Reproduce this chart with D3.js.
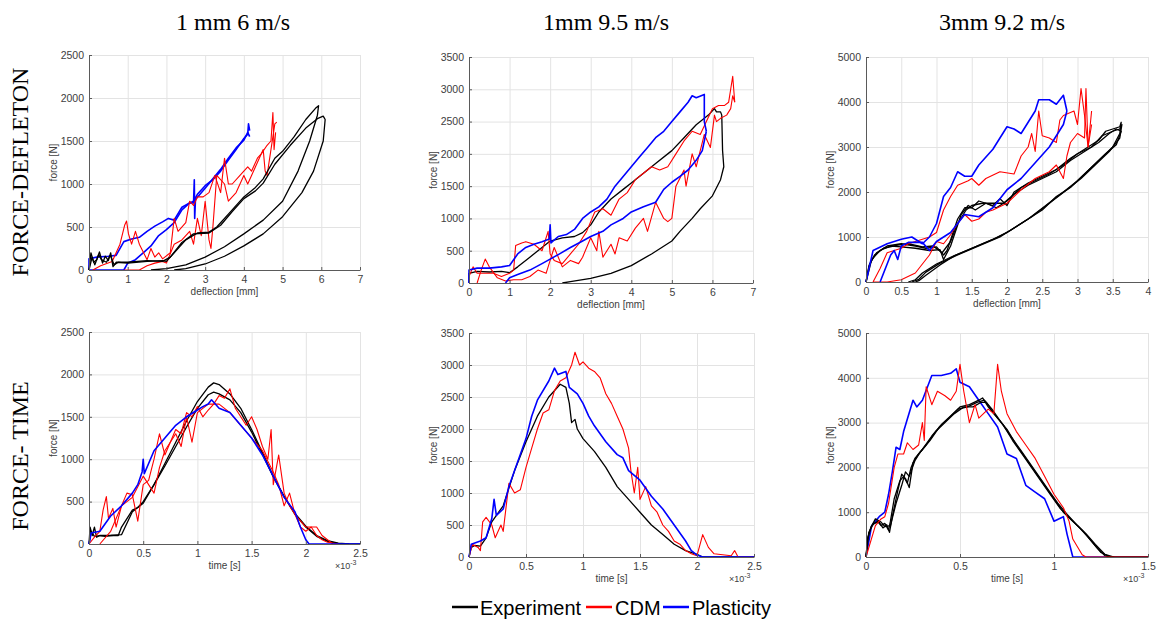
<!DOCTYPE html>
<html><head><meta charset="utf-8">
<script src="https://cdn.jsdelivr.net/npm/d3@7/dist/d3.min.js"></script>
<style>body{margin:0;background:#fff}svg{display:block}</style>
</head><body>
<svg id="c" width="1157" height="622"></svg>
<script>
// ---------- DATA ----------
const colTitles = ["1 mm 6 m/s", "1mm 9.5 m/s", "3mm 9.2 m/s"];
const rowTitles = ["FORCE-DEFLETON", "FORCE- TIME"];
const legendLabels = ["Experiment", "CDM", "Plasticity"];
const ticks7 = [0,1,2,3,4,5,6,7];
const ticks4 = [0,0.5,1,1.5,2,2.5,3,3.5,4];
const ticksT25 = [0,0.5,1,1.5,2,2.5];
const ticksT15 = [0,0.5,1,1.5];
const ticksF2500 = [0,500,1000,1500,2000,2500];
const ticksF3500 = [0,500,1000,1500,2000,2500,3000,3500];
const ticksF5000 = [0,1000,2000,3000,4000,5000];

// Panel 1: 1 mm 6 m/s, force-deflection
const p1Exp1 = [[0,0],[0.05,200],[0.12,90],[0.2,120],[0.27,210],[0.35,80],[0.42,160],[0.5,110],[0.56,200],[0.62,40],[0.7,90],[1,80],[1.5,100],[1.9,110],[2,100],[2.2,200],[2.5,350],[2.8,430],[3.1,440],[3.3,500],[3.6,650],[4,850],[4.3,960],[4.5,1060],[4.8,1300],[5,1380],[5.3,1550],[5.6,1750],[5.85,1880],[5.93,1910],[5.9,1800],[5.7,1500],[5.4,1150],[5,800],[4.5,580],[4,420],[3.5,270],[3,150],[2.5,60],[2,15],[1.6,0]];
const p1Exp2 = [[0,0],[0.08,150],[0.15,60],[0.25,180],[0.32,120],[0.45,90],[0.55,170],[0.65,60],[0.75,90],[1,90],[1.5,110],[1.9,100],[2.1,150],[2.4,320],[2.7,420],[3.1,430],[3.4,520],[3.7,680],[4,830],[4.3,920],[4.5,1010],[4.8,1230],[5.2,1450],[5.6,1650],[5.9,1760],[6.05,1790],[6.1,1750],[6.05,1500],[5.8,1150],[5.5,900],[5,620],[4.5,420],[4,280],[3.5,160],[3,70],[2.5,15],[2.2,0]];
const p1Cdm1 = [[0.1,0],[0.3,50],[0.6,100],[0.8,300],[0.92,520],[0.97,570],[1.02,420],[1.1,300],[1.2,450],[1.3,300],[1.5,120],[1.6,250],[1.7,150],[1.8,200],[1.9,130],[2.1,200],[2.2,600],[2.3,450],[2.5,550],[2.6,800],[2.7,750],[2.8,850],[2.95,850],[3.1,900],[3.25,1100],[3.4,900],[3.5,1300],[3.6,1000],[3.7,1000],[3.9,1100],[4.1,1200],[4.2,1150],[4.35,1300],[4.45,1350],[4.6,1450],[4.7,1500],[4.75,1830],[4.78,1400],[4.82,1600]];
const p1Cdm2 = [[0.9,0],[1.1,0],[1.3,0],[1.5,50],[1.7,80],[1.9,100],[2,80],[2.2,300],[2.4,350],[2.6,450],[2.7,300],[2.8,600],[2.9,400],[3,800],[3.1,350],[3.15,250],[3.2,500],[3.3,1100],[3.5,1000],[3.6,800],[3.8,900],[4,1100],[4.1,1000],[4.3,1200],[4.5,1400],[4.55,1150],[4.6,1100],[4.7,1400],[4.8,1700],[4.85,1720]];
const p1Pla1 = [[0,0],[0,130],[0.2,150],[0.5,160],[0.7,170],[0.9,330],[1.1,360],[1.3,380],[1.5,450],[1.7,510],[1.9,560],[2.05,600],[2.2,580],[2.4,730],[2.6,780],[2.7,800],[2.8,880],[3,980],[3.2,1050],[3.4,1150],[3.6,1280],[3.8,1400],[4,1530],[4.1,1580],[4.12,1700],[4.15,1620]];
const p1Pla2 = [[0,0],[0.3,0],[0.6,0],[0.9,0],[1,80],[1.2,120],[1.4,200],[1.6,280],[1.8,400],[2,470],[2.2,550],[2.4,700],[2.6,780],[2.7,780],[2.72,1050],[2.73,600],[2.75,820],[3,950],[3.2,1060],[3.4,1170],[3.6,1300],[3.8,1420],[4,1510],[4.1,1600],[4.15,1550]];

// Panel 2: 1mm 9.5 m/s, force-deflection
const p2Exp1 = [[0,0],[0,150],[0.2,180],[0.5,170],[0.8,180],[1,160],[1.2,250],[1.5,400],[1.8,550],[2,650],[2.3,700],[2.6,720],[2.8,780],[3,900],[3.2,1100],[3.5,1300],[3.8,1450],[4,1550],[4.3,1700],[4.6,1850],[5,2050],[5.3,2250],[5.6,2450],[5.9,2600],[6.05,2700],[6.1,2650],[6.2,2650],[6.23,2600],[6.25,2050],[6.28,1800],[6.2,1600],[6,1350],[5.7,1150],[5.5,1000],[5.2,800],[5,650],[4.5,450],[4,270],[3.5,150],[3,70],[2.5,20],[2.3,0]];
const p2Cdm1 = [[0,100],[0.1,250],[0.2,150],[0.4,150],[0.6,150],[0.8,100],[1,150],[1.1,200],[1.15,580],[1.3,620],[1.4,640],[1.6,600],[1.8,500],[1.95,800],[2,450],[2.1,350],[2.3,300],[2.5,450],[2.7,600],[2.9,800],[3.1,1100],[3.3,1150],[3.5,1050],[3.7,1300],[3.9,1400],[4.1,1600],[4.3,1700],[4.5,1800],[4.7,1750],[4.9,1800],[5.1,2000],[5.3,2200],[5.5,2350],[5.7,2300],[5.85,2500],[6,2700],[6.15,2750],[6.3,2750],[6.4,2800],[6.45,3000],[6.5,3200],[6.55,2800]];
const p2Cdm2 = [[0.2,0],[0.3,200],[0.4,370],[0.5,250],[0.7,80],[0.9,30],[1.1,50],[1.3,50],[1.5,100],[1.7,200],[1.9,150],[2.1,550],[2.3,250],[2.5,350],[2.7,300],[2.8,400],[3,700],[3.15,500],[3.2,800],[3.3,400],[3.5,600],[3.6,450],[3.7,700],[3.9,650],[4.1,850],[4.3,1000],[4.4,800],[4.6,1250],[4.8,1000],[4.9,950],[5,1000],[5.1,1500],[5.3,1750],[5.35,1500],[5.5,2000],[5.6,1800],[5.8,2300],[5.95,2100],[6.05,2600],[6.1,2500],[6.2,2550],[6.35,2600],[6.45,2700],[6.5,2900],[6.55,2800]];
const p2Pla1 = [[0,0],[0,200],[0.2,230],[0.5,230],[0.8,250],[1,270],[1.2,450],[1.4,550],[1.6,600],[1.8,640],[1.98,680],[2,900],[2.02,620],[2.2,720],[2.4,750],[2.6,830],[2.8,1000],[3,1100],[3.2,1180],[3.4,1300],[3.6,1500],[3.8,1650],[4,1800],[4.2,1950],[4.4,2100],[4.6,2250],[4.8,2350],[5,2500],[5.2,2650],[5.4,2800],[5.5,2900],[5.6,2870],[5.8,2920],[5.8,2500],[5.85,2350]];
const p2Pla2 = [[0.9,0],[1,80],[1.2,130],[1.5,200],[1.8,300],[2,370],[2.2,440],[2.5,550],[2.8,650],[3,720],[3.3,800],[3.5,900],[3.8,1000],[4,1100],[4.3,1180],[4.6,1250],[4.8,1450],[5,1560],[5.2,1650],[5.4,1750],[5.6,1900],[5.75,2050],[5.85,2350]];

// Panel 3: 3mm 9.2 m/s, force-deflection
const p3Exp1 = [[0,0],[0.05,400],[0.15,650],[0.3,800],[0.5,850],[0.7,800],[0.85,750],[1,780],[1.1,600],[1.15,700],[1.3,1400],[1.4,1650],[1.5,1650],[1.6,1800],[1.8,1700],[1.9,1850],[2,1700],[2.1,2000],[2.3,2200],[2.5,2350],[2.7,2500],[2.9,2750],[3.1,2950],[3.3,3150],[3.4,3350],[3.5,3400],[3.6,3450],[3.62,3550],[3.6,3300],[3.5,3000],[3.3,2700],[3.1,2400],[2.9,2100],[2.7,1900],[2.5,1600],[2.2,1300],[2,1100],[1.8,950],[1.5,750],[1.2,550],[1,400],[0.8,200],[0.7,50],[0.6,0]];
const p3Exp2 = [[0,0],[0.08,500],[0.2,700],[0.35,800],[0.5,780],[0.7,750],[0.9,700],[1.05,720],[1.1,500],[1.2,800],[1.35,1500],[1.45,1700],[1.55,1600],[1.7,1750],[1.85,1650],[2,1800],[2.2,2100],[2.4,2250],[2.6,2400],[2.8,2600],[3,2850],[3.2,3000],[3.35,3250],[3.5,3350],[3.6,3400],[3.63,3500],[3.6,3200],[3.45,2900],[3.25,2600],[3.05,2300],[2.85,2050],[2.6,1750],[2.35,1450],[2.1,1200],[1.9,1000],[1.6,800],[1.3,600],[1.05,420],[0.85,220],[0.75,60],[0.65,0]];
const p3Exp3 = [[0,0],[0.04,350],[0.12,600],[0.25,750],[0.45,820],[0.6,850],[0.8,780],[0.95,800],[1.08,650],[1.2,900],[1.3,1300],[1.42,1600],[1.5,1700],[1.65,1750],[1.8,1750],[1.95,1750],[2.1,1950],[2.3,2150],[2.5,2300],[2.7,2450],[2.9,2700],[3.1,2900],[3.3,3100],[3.45,3300],[3.55,3400],[3.62,3350],[3.55,3050],[3.4,2850],[3.2,2550],[3,2250],[2.8,2000],[2.55,1700],[2.3,1400],[2.05,1150],[1.85,980],[1.55,780],[1.25,580],[1.05,380],[0.85,150],[0.75,30],[0.7,0]];
const p3Cdm1 = [[0.1,0],[0.2,300],[0.3,650],[0.5,750],[0.6,850],[0.7,900],[0.9,1000],[1,1100],[1.1,1600],[1.2,1900],[1.3,2150],[1.45,2250],[1.5,2300],[1.6,2150],[1.7,2300],[1.9,2450],[2.1,2400],[2.2,2800],[2.3,3000],[2.35,3300],[2.4,2900],[2.45,3800],[2.5,3250],[2.6,3200],[2.7,3100],[2.75,3600],[2.8,3700],[2.95,3800],[3,3500],[3.05,4300],[3.1,3700],[3.15,3000],[3.2,3800]];
const p3Cdm2 = [[0.1,0],[0.3,0],[0.5,50],[0.7,200],[0.9,600],[1,900],[1.1,850],[1.2,1050],[1.3,1300],[1.4,1500],[1.5,1350],[1.6,1400],[1.7,1550],[1.8,1600],[2,1750],[2.2,2050],[2.4,2300],[2.6,2450],[2.7,2600],[2.8,2300],[2.85,2800],[2.9,3100],[3,3300],[3.1,3200],[3.12,4300],[3.15,3000],[3.2,3500]];
const p3Pla1 = [[0,0],[0.1,700],[0.3,850],[0.5,950],[0.65,1000],[0.8,850],[0.9,1000],[1,1300],[1.1,1900],[1.2,2100],[1.3,2450],[1.4,2350],[1.5,2350],[1.6,2600],[1.8,2950],[2,3450],[2.1,3400],[2.2,3300],[2.3,3550],[2.4,3800],[2.45,4050],[2.6,4050],[2.7,3950],[2.8,4150],[2.85,3800]];
const p3Pla2 = [[0.2,0],[0.3,400],[0.35,600],[0.4,700],[0.45,500],[0.5,800],[0.6,880],[0.8,880],[0.9,700],[1,900],[1.2,1100],[1.4,1500],[1.6,1450],[1.8,1650],[2,2050],[2.2,2300],[2.4,2650],[2.6,3000],[2.7,3250],[2.8,3500],[2.85,3800]];

// Panel 4: 1 mm 6 m/s, force-time (time in 1e-3 s)
const p4Exp1 = [[0,0],[0.01,200],[0.03,100],[0.05,200],[0.07,80],[0.1,100],[0.15,90],[0.2,100],[0.27,100],[0.3,200],[0.4,400],[0.45,430],[0.5,500],[0.6,700],[0.7,950],[0.8,1200],[0.9,1450],[1,1680],[1.1,1850],[1.15,1900],[1.2,1880],[1.3,1770],[1.4,1600],[1.5,1350],[1.6,1080],[1.7,800],[1.8,560],[1.9,350],[2,200],[2.1,90],[2.2,30],[2.3,5],[2.4,0],[2.5,0]];
const p4Exp2 = [[0,0],[0.02,150],[0.05,90],[0.1,100],[0.2,100],[0.3,110],[0.4,380],[0.5,480],[0.6,700],[0.7,920],[0.8,1150],[0.9,1380],[1,1600],[1.1,1760],[1.15,1790],[1.2,1770],[1.3,1700],[1.4,1550],[1.5,1320],[1.6,1060],[1.7,790],[1.8,560],[1.9,360],[2,210],[2.1,100],[2.2,40],[2.3,10],[2.4,0]];
const p4Cdm1 = [[0,0],[0.05,80],[0.1,150],[0.13,400],[0.16,560],[0.18,300],[0.22,420],[0.25,200],[0.3,450],[0.35,600],[0.4,580],[0.45,270],[0.5,700],[0.55,750],[0.6,1000],[0.65,1300],[0.7,1050],[0.75,1200],[0.8,1350],[0.85,1300],[0.9,1550],[0.95,1500],[1,1620],[1.05,1500],[1.1,1580],[1.15,1650],[1.2,1750],[1.25,1720],[1.3,1830],[1.35,1600],[1.4,1500],[1.45,1400],[1.5,1500],[1.55,1350],[1.6,1150],[1.65,1000],[1.68,1350],[1.7,700],[1.75,1050],[1.8,600],[1.85,450],[1.9,350],[1.95,200],[2,150],[2.05,200],[2.1,100],[2.15,50],[2.2,20],[2.3,0]];
const p4Cdm2 = [[0.1,0],[0.2,150],[0.3,450],[0.4,550],[0.5,800],[0.6,600],[0.65,900],[0.7,1100],[0.8,1300],[0.85,1150],[0.9,1500],[0.95,1200],[1,1550],[1.1,1650],[1.2,1650],[1.3,1550],[1.4,1400],[1.5,1250],[1.6,1100],[1.7,850],[1.75,700],[1.8,450],[1.85,600],[1.9,350],[2,200],[2.1,200],[2.15,100],[2.2,50],[2.25,0]];
const p4Pla1 = [[0,0],[0.02,130],[0.1,150],[0.2,330],[0.3,450],[0.4,600],[0.45,700],[0.49,850],[0.5,1000],[0.51,830],[0.55,950],[0.6,1100],[0.7,1250],[0.8,1400],[0.9,1500],[1,1580],[1.05,1620],[1.1,1650],[1.13,1700],[1.2,1600],[1.3,1550],[1.4,1400],[1.5,1250],[1.6,1050],[1.7,800],[1.8,550],[1.9,380],[1.95,200],[2,50],[2.03,0],[2.5,0]];

// Panel 5: 1mm 9.5 m/s, force-time
const p5Exp1 = [[0,0],[0.02,150],[0.05,180],[0.1,170],[0.15,300],[0.2,550],[0.3,800],[0.4,1350],[0.5,1800],[0.6,2200],[0.7,2500],[0.8,2700],[0.85,2650],[0.88,2400],[0.9,2100],[0.93,2150],[0.95,2000],[1,1850],[1.1,1650],[1.2,1400],[1.3,1100],[1.4,900],[1.5,700],[1.6,500],[1.7,350],[1.8,200],[1.9,100],[2,40],[2.05,0],[2.5,0]];
const p5Cdm1 = [[0,0],[0.03,200],[0.08,150],[0.1,100],[0.12,550],[0.15,620],[0.2,500],[0.23,300],[0.28,500],[0.3,400],[0.35,1150],[0.4,1000],[0.45,1050],[0.5,1400],[0.55,1700],[0.6,2000],[0.65,2250],[0.7,2300],[0.75,2600],[0.8,2750],[0.85,2800],[0.9,3000],[0.93,3200],[0.97,3000],[1,3050],[1.05,2950],[1.1,2900],[1.15,2800],[1.2,2550],[1.25,2400],[1.3,2200],[1.35,2000],[1.4,1700],[1.42,1350],[1.45,1000],[1.48,1400],[1.5,900],[1.55,1100],[1.6,800],[1.65,700],[1.7,500],[1.75,400],[1.8,250],[1.85,200],[1.9,100],[1.95,50],[2,20],[2.05,350],[2.1,150],[2.15,50],[2.3,20],[2.33,100],[2.36,0],[2.5,0]];
const p5Pla1 = [[0,0],[0.02,200],[0.1,250],[0.15,300],[0.2,600],[0.22,900],[0.24,650],[0.3,750],[0.35,1100],[0.4,1350],[0.45,1600],[0.5,1850],[0.55,2200],[0.6,2450],[0.7,2750],[0.75,2950],[0.78,2850],[0.85,2900],[0.88,2650],[0.95,2550],[1,2400],[1.05,2200],[1.1,2050],[1.2,1800],[1.3,1600],[1.35,1550],[1.4,1350],[1.5,1200],[1.6,950],[1.7,750],[1.8,500],[1.9,250],[1.95,100],[2,30],[2.05,0],[2.5,0]];

// Panel 6: 3mm 9.2 m/s, force-time
const p6Exp1 = [[0,0],[0.01,450],[0.03,700],[0.06,800],[0.08,700],[0.1,750],[0.12,600],[0.13,800],[0.15,1300],[0.18,1700],[0.2,1800],[0.22,1650],[0.24,2000],[0.26,2200],[0.3,2400],[0.35,2700],[0.4,2950],[0.45,3150],[0.5,3350],[0.55,3400],[0.6,3500],[0.62,3550],[0.65,3350],[0.7,3100],[0.75,2850],[0.8,2500],[0.85,2200],[0.9,1900],[0.95,1600],[1,1300],[1.05,1000],[1.1,800],[1.15,600],[1.2,350],[1.25,100],[1.3,0],[1.5,0]];
const p6Exp2 = [[0,0],[0.015,550],[0.04,750],[0.07,780],[0.09,650],[0.11,720],[0.125,550],[0.14,900],[0.17,1500],[0.19,1850],[0.21,1750],[0.23,1550],[0.25,2100],[0.28,2300],[0.32,2500],[0.37,2800],[0.42,3000],[0.47,3200],[0.52,3350],[0.57,3350],[0.61,3450],[0.64,3450],[0.68,3200],[0.73,2950],[0.78,2600],[0.83,2300],[0.88,2000],[0.93,1700],[0.98,1400],[1.03,1100],[1.08,880],[1.13,680],[1.18,450],[1.23,200],[1.27,30],[1.3,0]];
const p6Exp3 = [[0,0],[0.008,380],[0.025,650],[0.05,850],[0.08,780],[0.1,680],[0.13,700],[0.16,1200],[0.19,1600],[0.21,1900],[0.23,1800],[0.26,2150],[0.29,2350],[0.34,2600],[0.39,2900],[0.44,3100],[0.49,3300],[0.54,3350],[0.59,3450],[0.63,3500],[0.67,3300],[0.72,3000],[0.77,2700],[0.82,2400],[0.87,2100],[0.92,1800],[0.97,1500],[1.02,1200],[1.07,950],[1.12,720],[1.17,520],[1.22,280],[1.27,60],[1.32,0]];
const p6Cdm1 = [[0,0],[0.05,700],[0.08,850],[0.1,900],[0.12,1200],[0.15,2000],[0.17,2300],[0.2,2300],[0.22,2550],[0.25,2400],[0.28,2500],[0.3,3000],[0.31,2600],[0.32,3800],[0.35,3400],[0.38,3700],[0.42,3600],[0.45,3500],[0.48,3700],[0.5,4300],[0.52,3700],[0.55,3000],[0.58,3400],[0.6,3100],[0.65,3300],[0.68,3200],[0.7,4300],[0.72,3700],[0.75,3200],[0.8,2800],[0.85,2500],[0.9,2200],[0.95,1800],[1,1400],[1.05,1100],[1.08,800],[1.1,400],[1.15,50],[1.17,0],[1.5,0]];
const p6Pla1 = [[0,0],[0.03,700],[0.07,900],[0.1,1000],[0.12,1400],[0.14,1900],[0.16,2450],[0.18,2400],[0.2,2800],[0.25,3500],[0.27,3350],[0.3,3500],[0.35,4050],[0.4,4050],[0.45,4100],[0.48,4200],[0.5,3900],[0.55,3800],[0.6,3500],[0.65,3200],[0.7,2900],[0.75,2300],[0.8,2200],[0.85,1600],[0.9,1450],[0.95,1300],[1,800],[1.05,900],[1.07,500],[1.1,0],[1.5,0]];

// ---------- LAYOUT ----------
const colors = {exp:"#000000", cdm:"#ff0000", pla:"#0000ff"};
const panels = [
  {box:[89,55,360,270], xd:[0,7], yd:[0,2500], xt:ticks7, yt:ticksF2500, xl:"deflection [mm]", exp:false,
   series:[["pla",p1Pla1],["pla",p1Pla2],["cdm",p1Cdm1],["cdm",p1Cdm2],["exp",p1Exp1],["exp",p1Exp2]]},
  {box:[469,57,753,283], xd:[0,7], yd:[0,3500], xt:ticks7, yt:ticksF3500, xl:"deflection [mm]", exp:false,
   series:[["exp",p2Exp1],["cdm",p2Cdm1],["cdm",p2Cdm2],["pla",p2Pla1],["pla",p2Pla2]]},
  {box:[866,57,1148,282], xd:[0,4], yd:[0,5000], xt:ticks4, yt:ticksF5000, xl:"deflection [mm]", exp:false,
   series:[["exp",p3Exp1],["exp",p3Exp2],["exp",p3Exp3],["cdm",p3Cdm1],["cdm",p3Cdm2],["pla",p3Pla1],["pla",p3Pla2]]},
  {box:[89,332,360,544], xd:[0,2.5], yd:[0,2500], xt:ticksT25, yt:ticksF2500, xl:"time [s]", exp:true,
   series:[["exp",p4Exp1],["exp",p4Exp2],["cdm",p4Cdm1],["cdm",p4Cdm2],["pla",p4Pla1]]},
  {box:[469,333,754,557], xd:[0,2.5], yd:[0,3500], xt:ticksT25, yt:ticksF3500, xl:"time [s]", exp:true,
   series:[["exp",p5Exp1],["cdm",p5Cdm1],["pla",p5Pla1]]},
  {box:[866,333,1148,557], xd:[0,1.5], yd:[0,5000], xt:ticksT15, yt:ticksF5000, xl:"time [s]", exp:true,
   series:[["pla",p6Pla1],["exp",p6Exp1],["exp",p6Exp2],["exp",p6Exp3],["cdm",p6Cdm1]]}
];
const widths = {exp:1.3, cdm:1.1, pla:1.6};

const svg = d3.select("#c");
const axisFont = "'Liberation Sans', Arial, sans-serif";

panels.forEach(p => {
  const [x0,y0,x1,y1] = p.box;
  const x = d3.scaleLinear().domain(p.xd).range([x0,x1]);
  const y = d3.scaleLinear().domain(p.yd).range([y1,y0]);
  const g = svg.append("g");
  // grid
  g.append("g").attr("transform",`translate(0,${y1})`)
    .call(d3.axisBottom(x).tickValues(p.xt).tickSize(-(y1-y0)).tickFormat(""))
    .call(s=>{s.select(".domain").remove(); s.selectAll("line").attr("stroke","#e3e3e3");});
  g.append("g").attr("transform",`translate(${x0},0)`)
    .call(d3.axisLeft(y).tickValues(p.yt).tickSize(-(x1-x0)).tickFormat(""))
    .call(s=>{s.select(".domain").remove(); s.selectAll("line").attr("stroke","#e3e3e3");});
  // lines
  const line = d3.line().x(d=>x(d[0])).y(d=>y(d[1]));
  p.series.forEach(([k,data]) => {
    g.append("path").attr("d",line(data)).attr("fill","none")
      .attr("stroke",colors[k]).attr("stroke-width",widths[k]).attr("stroke-linejoin","round");
  });
  // axes
  const ax = g.append("g").attr("transform",`translate(0,${y1})`)
    .call(d3.axisBottom(x).tickValues(p.xt).tickSizeInner(-3).tickSizeOuter(0).tickPadding(6).tickFormat(d3.format("")));
  const ay = g.append("g").attr("transform",`translate(${x0},0)`)
    .call(d3.axisLeft(y).tickValues(p.yt).tickSizeInner(-3).tickSizeOuter(0).tickPadding(5).tickFormat(d3.format("")));
  [ax,ay].forEach(a=>{
    a.select(".domain").attr("stroke","#5a5a5a");
    a.selectAll("line").attr("stroke","#5a5a5a");
    a.selectAll("text").attr("fill","#404040").style("font-size","10.5px").style("font-family",axisFont);
  });
  // axis labels
  g.append("text").attr("x",(x0+x1)/2).attr("y",y1+25).attr("text-anchor","middle")
    .attr("fill","#404040").style("font-size","10px").style("font-family",axisFont).text(p.xl);
  g.append("text").attr("transform",`translate(${x0-32},${(y0+y1)/2}) rotate(-90)`).attr("text-anchor","middle")
    .attr("fill","#404040").style("font-size","10px").style("font-family",axisFont).text("force [N]");
  if (p.exp) {
    const t = g.append("text").attr("x",x1-25).attr("y",y1+25).attr("fill","#404040")
      .style("font-size","9px").style("font-family",axisFont);
    t.append("tspan").text("×10");
    t.append("tspan").attr("dy",-4).style("font-size","7px").text("-3");
  }
});

// column titles
const colX = [233, 606, 1002];
colTitles.forEach((t,i)=>{
  svg.append("text").attr("x",colX[i]).attr("y",30).attr("text-anchor","middle")
    .style("font-family","'Liberation Serif', 'Times New Roman', serif").style("font-size","24px").text(t);
});
// row titles
const rowY = [172, 456];
rowTitles.forEach((t,i)=>{
  svg.append("text").attr("transform",`translate(28,${rowY[i]}) rotate(-90)`).attr("text-anchor","middle")
    .style("font-family","'Liberation Serif', 'Times New Roman', serif").style("font-size","24px").text(t);
});

// legend
const lg = svg.append("g");
const legendItems = [["exp",452,480],["cdm",586,615],["pla",663,692]];
legendItems.forEach(([k,lx,tx],i)=>{
  lg.append("line").attr("x1",lx).attr("x2",lx+26).attr("y1",607).attr("y2",607)
    .attr("stroke",colors[k]).attr("stroke-width",2.5);
  lg.append("text").attr("x",tx).attr("y",615).style("font-family",axisFont).style("font-size","20px").text(legendLabels[i]);
});
</script>
</body></html>
